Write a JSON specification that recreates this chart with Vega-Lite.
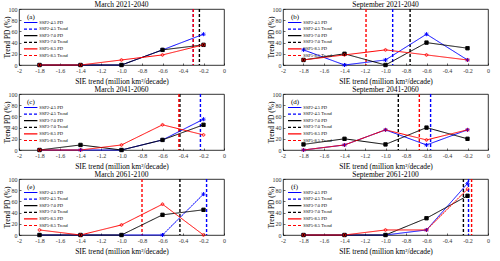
{
  "$schema": "https://vega.github.io/schema/vega-lite/v6.json",
  "padding": {"left": 2, "top": 0, "right": 2, "bottom": 0},
  "background": "white",
  "datasets": {
    "pd": [
      {"panel":"a","series":"SSP2-4.5 PD","x":-1.8,"y":0},{"panel":"a","series":"SSP2-4.5 PD","x":-1.4,"y":0},{"panel":"a","series":"SSP2-4.5 PD","x":-1.0,"y":0},{"panel":"a","series":"SSP2-4.5 PD","x":-0.6,"y":27},{"panel":"a","series":"SSP2-4.5 PD","x":-0.2,"y":55},
      {"panel":"a","series":"SSP3-7.0 PD","x":-1.8,"y":0},{"panel":"a","series":"SSP3-7.0 PD","x":-1.4,"y":0},{"panel":"a","series":"SSP3-7.0 PD","x":-1.0,"y":0},{"panel":"a","series":"SSP3-7.0 PD","x":-0.6,"y":27},{"panel":"a","series":"SSP3-7.0 PD","x":-0.2,"y":36},
      {"panel":"a","series":"SSP5-8.5 PD","x":-1.8,"y":0},{"panel":"a","series":"SSP5-8.5 PD","x":-1.4,"y":0},{"panel":"a","series":"SSP5-8.5 PD","x":-1.0,"y":9},{"panel":"a","series":"SSP5-8.5 PD","x":-0.6,"y":18},{"panel":"a","series":"SSP5-8.5 PD","x":-0.2,"y":36},
      {"panel":"b","series":"SSP2-4.5 PD","x":-1.8,"y":27},{"panel":"b","series":"SSP2-4.5 PD","x":-1.4,"y":0},{"panel":"b","series":"SSP2-4.5 PD","x":-1.0,"y":9},{"panel":"b","series":"SSP2-4.5 PD","x":-0.6,"y":55},{"panel":"b","series":"SSP2-4.5 PD","x":-0.2,"y":9},
      {"panel":"b","series":"SSP3-7.0 PD","x":-1.8,"y":9},{"panel":"b","series":"SSP3-7.0 PD","x":-1.4,"y":20},{"panel":"b","series":"SSP3-7.0 PD","x":-1.0,"y":0},{"panel":"b","series":"SSP3-7.0 PD","x":-0.6,"y":40},{"panel":"b","series":"SSP3-7.0 PD","x":-0.2,"y":30},
      {"panel":"b","series":"SSP5-8.5 PD","x":-1.8,"y":9},{"panel":"b","series":"SSP5-8.5 PD","x":-1.4,"y":18},{"panel":"b","series":"SSP5-8.5 PD","x":-1.0,"y":27},{"panel":"b","series":"SSP5-8.5 PD","x":-0.6,"y":18},{"panel":"b","series":"SSP5-8.5 PD","x":-0.2,"y":9},
      {"panel":"c","series":"SSP2-4.5 PD","x":-1.8,"y":0},{"panel":"c","series":"SSP2-4.5 PD","x":-1.4,"y":0},{"panel":"c","series":"SSP2-4.5 PD","x":-1.0,"y":0},{"panel":"c","series":"SSP2-4.5 PD","x":-0.6,"y":18},{"panel":"c","series":"SSP2-4.5 PD","x":-0.2,"y":55},
      {"panel":"c","series":"SSP3-7.0 PD","x":-1.8,"y":0},{"panel":"c","series":"SSP3-7.0 PD","x":-1.4,"y":9},{"panel":"c","series":"SSP3-7.0 PD","x":-1.0,"y":0},{"panel":"c","series":"SSP3-7.0 PD","x":-0.6,"y":18},{"panel":"c","series":"SSP3-7.0 PD","x":-0.2,"y":45},
      {"panel":"c","series":"SSP5-8.5 PD","x":-1.8,"y":0},{"panel":"c","series":"SSP5-8.5 PD","x":-1.4,"y":0},{"panel":"c","series":"SSP5-8.5 PD","x":-1.0,"y":9},{"panel":"c","series":"SSP5-8.5 PD","x":-0.6,"y":45},{"panel":"c","series":"SSP5-8.5 PD","x":-0.2,"y":27},
      {"panel":"d","series":"SSP2-4.5 PD","x":-1.8,"y":0},{"panel":"d","series":"SSP2-4.5 PD","x":-1.4,"y":9},{"panel":"d","series":"SSP2-4.5 PD","x":-1.0,"y":36},{"panel":"d","series":"SSP2-4.5 PD","x":-0.6,"y":9},{"panel":"d","series":"SSP2-4.5 PD","x":-0.2,"y":36},
      {"panel":"d","series":"SSP3-7.0 PD","x":-1.8,"y":10},{"panel":"d","series":"SSP3-7.0 PD","x":-1.4,"y":20},{"panel":"d","series":"SSP3-7.0 PD","x":-1.0,"y":10},{"panel":"d","series":"SSP3-7.0 PD","x":-0.6,"y":40},{"panel":"d","series":"SSP3-7.0 PD","x":-0.2,"y":20},
      {"panel":"d","series":"SSP5-8.5 PD","x":-1.8,"y":0},{"panel":"d","series":"SSP5-8.5 PD","x":-1.4,"y":9},{"panel":"d","series":"SSP5-8.5 PD","x":-1.0,"y":36},{"panel":"d","series":"SSP5-8.5 PD","x":-0.6,"y":18},{"panel":"d","series":"SSP5-8.5 PD","x":-0.2,"y":36},
      {"panel":"e","series":"SSP2-4.5 PD","x":-1.8,"y":0},{"panel":"e","series":"SSP2-4.5 PD","x":-1.4,"y":0},{"panel":"e","series":"SSP2-4.5 PD","x":-1.0,"y":0},{"panel":"e","series":"SSP2-4.5 PD","x":-0.6,"y":0},{"panel":"e","series":"SSP2-4.5 PD","x":-0.2,"y":73},
      {"panel":"e","series":"SSP3-7.0 PD","x":-1.8,"y":0},{"panel":"e","series":"SSP3-7.0 PD","x":-1.4,"y":0},{"panel":"e","series":"SSP3-7.0 PD","x":-1.0,"y":0},{"panel":"e","series":"SSP3-7.0 PD","x":-0.6,"y":36},{"panel":"e","series":"SSP3-7.0 PD","x":-0.2,"y":45},
      {"panel":"e","series":"SSP5-8.5 PD","x":-1.8,"y":9},{"panel":"e","series":"SSP5-8.5 PD","x":-1.4,"y":0},{"panel":"e","series":"SSP5-8.5 PD","x":-1.0,"y":18},{"panel":"e","series":"SSP5-8.5 PD","x":-0.6,"y":55},{"panel":"e","series":"SSP5-8.5 PD","x":-0.2,"y":0},
      {"panel":"f","series":"SSP2-4.5 PD","x":-1.8,"y":0},{"panel":"f","series":"SSP2-4.5 PD","x":-1.4,"y":0},{"panel":"f","series":"SSP2-4.5 PD","x":-1.0,"y":0},{"panel":"f","series":"SSP2-4.5 PD","x":-0.6,"y":9},{"panel":"f","series":"SSP2-4.5 PD","x":-0.2,"y":92},
      {"panel":"f","series":"SSP3-7.0 PD","x":-1.8,"y":0},{"panel":"f","series":"SSP3-7.0 PD","x":-1.4,"y":0},{"panel":"f","series":"SSP3-7.0 PD","x":-1.0,"y":0},{"panel":"f","series":"SSP3-7.0 PD","x":-0.6,"y":30},{"panel":"f","series":"SSP3-7.0 PD","x":-0.2,"y":70},
      {"panel":"f","series":"SSP5-8.5 PD","x":-1.8,"y":0},{"panel":"f","series":"SSP5-8.5 PD","x":-1.4,"y":0},{"panel":"f","series":"SSP5-8.5 PD","x":-1.0,"y":9},{"panel":"f","series":"SSP5-8.5 PD","x":-0.6,"y":9},{"panel":"f","series":"SSP5-8.5 PD","x":-0.2,"y":82}
    ],
    "trend": [
      {"panel":"a","series":"SSP2-4.5 Trend","trend":-0.30},{"panel":"a","series":"SSP3-7.0 Trend","trend":-0.24},{"panel":"a","series":"SSP5-8.5 Trend","trend":-0.30},
      {"panel":"b","series":"SSP2-4.5 Trend","trend":-0.93},{"panel":"b","series":"SSP3-7.0 Trend","trend":-0.76},{"panel":"b","series":"SSP5-8.5 Trend","trend":-1.19},
      {"panel":"c","series":"SSP2-4.5 Trend","trend":-0.23},{"panel":"c","series":"SSP3-7.0 Trend","trend":-0.43},{"panel":"c","series":"SSP5-8.5 Trend","trend":-0.44},
      {"panel":"d","series":"SSP2-4.5 Trend","trend":-0.56},{"panel":"d","series":"SSP3-7.0 Trend","trend":-0.875},{"panel":"d","series":"SSP5-8.5 Trend","trend":-0.67},
      {"panel":"e","series":"SSP2-4.5 Trend","trend":-0.17},{"panel":"e","series":"SSP3-7.0 Trend","trend":-0.43},{"panel":"e","series":"SSP5-8.5 Trend","trend":-0.80},
      {"panel":"f","series":"SSP2-4.5 Trend","trend":-0.19},{"panel":"f","series":"SSP3-7.0 Trend","trend":-0.24},{"panel":"f","series":"SSP5-8.5 Trend","trend":-0.16}
    ]
  },
  "columns": 2,
  "spacing": {"row": -1, "column": 40},
  "resolve": {
    "scale": {"color": "independent", "strokeDash": "independent", "shape": "independent", "fill": "independent", "size": "independent"},
    "legend": {"color": "independent", "strokeDash": "independent", "shape": "independent", "fill": "independent", "size": "independent"}
  },
  "concat": [
    {
      "title": "March 2021-2040", "width": 205, "height": 56,
      "encoding": {
        "color": {"field":"series","type":"nominal","scale":{"domain":["SSP2-4.5 PD","SSP2-4.5 Trend","SSP3-7.0 PD","SSP3-7.0 Trend","SSP5-8.5 PD","SSP5-8.5 Trend"],"range":["#0000ff","#0000ff","#000000","#000000","#ff0000","#ff0000"]},"legend":{"title":"(a)"}},
        "strokeDash": {"field":"series","type":"nominal","scale":{"domain":["SSP2-4.5 PD","SSP2-4.5 Trend","SSP3-7.0 PD","SSP3-7.0 Trend","SSP5-8.5 PD","SSP5-8.5 Trend"],"range":[[1,0],[3,2],[1,0],[3,2],[1,0],[3,2]]},"legend":{"title":"(a)"}}
      },
      "layer": [
        {"data":{"name":"trend"},"transform":[{"filter":"datum.panel=='a'"}],"mark":{"type":"rule","strokeWidth":1.4},
         "encoding":{"x":{"field":"trend","type":"quantitative","scale":{"domain":[-2,0],"nice":false},"axis":{"title":"SIE trend (million km²/decade)","values":[-2,-1.8,-1.6,-1.4,-1.2,-1,-0.8,-0.6,-0.4,-0.2,0],"labelExpr":"datum.value == -1 ? '-1.0' : '' + datum.value","tickCount":20,"labelOverlap":false,"labelFlush":false}}}},
        {"data":{"name":"pd"},"transform":[{"filter":"datum.panel=='a'"}],"mark":{"type":"line","strokeWidth":1},
         "encoding":{"x":{"field":"x","type":"quantitative","scale":{"domain":[-2,0],"nice":false},"axis":{"title":"SIE trend (million km²/decade)","values":[-2,-1.8,-1.6,-1.4,-1.2,-1,-0.8,-0.6,-0.4,-0.2,0],"labelExpr":"datum.value == -1 ? '-1.0' : '' + datum.value","tickCount":20,"labelOverlap":false,"labelFlush":false}},
          "y":{"field":"y","type":"quantitative","scale":{"domain":[0,100],"nice":false},"axis":{"title":"Trend PD (%)","values":[0,20,40,60,80,100],"tickCount":20,"labelOverlap":false,"labelFlush":false}}}},
        {"data":{"name":"pd"},"transform":[{"filter":"datum.panel=='a'"}],"mark":{"type":"point","filled":false,"strokeWidth":1,"opacity":1},
         "encoding":{"x":{"field":"x","type":"quantitative"},"y":{"field":"y","type":"quantitative"},
          "shape":{"field":"series","type":"nominal","scale":{"domain":["SSP2-4.5 PD","SSP3-7.0 PD","SSP5-8.5 PD"],"range":["M-1,0H1M0,-1V1M-0.7,-0.7L0.7,0.7M-0.7,0.7L0.7,-0.7","square","circle"]},"legend":null},
          "fill":{"field":"series","type":"nominal","scale":{"domain":["SSP2-4.5 PD","SSP3-7.0 PD","SSP5-8.5 PD"],"range":["transparent","#000000","transparent"]},"legend":null},
          "size":{"field":"series","type":"nominal","scale":{"domain":["SSP2-4.5 PD","SSP3-7.0 PD","SSP5-8.5 PD"],"range":[16,7,18]},"legend":null}}}
      ]
    },
    {
      "title": "September 2021-2040", "width": 205, "height": 56,
      "encoding": {
        "color": {"field":"series","type":"nominal","scale":{"domain":["SSP2-4.5 PD","SSP2-4.5 Trend","SSP3-7.0 PD","SSP3-7.0 Trend","SSP5-8.5 PD","SSP5-8.5 Trend"],"range":["#0000ff","#0000ff","#000000","#000000","#ff0000","#ff0000"]},"legend":{"title":"(b)"}},
        "strokeDash": {"field":"series","type":"nominal","scale":{"domain":["SSP2-4.5 PD","SSP2-4.5 Trend","SSP3-7.0 PD","SSP3-7.0 Trend","SSP5-8.5 PD","SSP5-8.5 Trend"],"range":[[1,0],[3,2],[1,0],[3,2],[1,0],[3,2]]},"legend":{"title":"(b)"}}
      },
      "layer": [
        {"data":{"name":"trend"},"transform":[{"filter":"datum.panel=='b'"}],"mark":{"type":"rule","strokeWidth":1.4},
         "encoding":{"x":{"field":"trend","type":"quantitative","scale":{"domain":[-2,0],"nice":false},"axis":{"title":"SIE trend (million km²/decade)","values":[-2,-1.8,-1.6,-1.4,-1.2,-1,-0.8,-0.6,-0.4,-0.2,0],"labelExpr":"datum.value == -1 ? '-1.0' : '' + datum.value","tickCount":20,"labelOverlap":false,"labelFlush":false}}}},
        {"data":{"name":"pd"},"transform":[{"filter":"datum.panel=='b'"}],"mark":{"type":"line","strokeWidth":1},
         "encoding":{"x":{"field":"x","type":"quantitative","scale":{"domain":[-2,0],"nice":false},"axis":{"title":"SIE trend (million km²/decade)","values":[-2,-1.8,-1.6,-1.4,-1.2,-1,-0.8,-0.6,-0.4,-0.2,0],"labelExpr":"datum.value == -1 ? '-1.0' : '' + datum.value","tickCount":20,"labelOverlap":false,"labelFlush":false}},
          "y":{"field":"y","type":"quantitative","scale":{"domain":[0,100],"nice":false},"axis":{"title":"Trend PD (%)","values":[0,20,40,60,80,100],"tickCount":20,"labelOverlap":false,"labelFlush":false}}}},
        {"data":{"name":"pd"},"transform":[{"filter":"datum.panel=='b'"}],"mark":{"type":"point","filled":false,"strokeWidth":1,"opacity":1},
         "encoding":{"x":{"field":"x","type":"quantitative"},"y":{"field":"y","type":"quantitative"},
          "shape":{"field":"series","type":"nominal","scale":{"domain":["SSP2-4.5 PD","SSP3-7.0 PD","SSP5-8.5 PD"],"range":["M-1,0H1M0,-1V1M-0.7,-0.7L0.7,0.7M-0.7,0.7L0.7,-0.7","square","circle"]},"legend":null},
          "fill":{"field":"series","type":"nominal","scale":{"domain":["SSP2-4.5 PD","SSP3-7.0 PD","SSP5-8.5 PD"],"range":["transparent","#000000","transparent"]},"legend":null},
          "size":{"field":"series","type":"nominal","scale":{"domain":["SSP2-4.5 PD","SSP3-7.0 PD","SSP5-8.5 PD"],"range":[16,7,18]},"legend":null}}}
      ]
    },
    {
      "title": "March 2041-2060", "width": 205, "height": 56,
      "encoding": {
        "color": {"field":"series","type":"nominal","scale":{"domain":["SSP2-4.5 PD","SSP2-4.5 Trend","SSP3-7.0 PD","SSP3-7.0 Trend","SSP5-8.5 PD","SSP5-8.5 Trend"],"range":["#0000ff","#0000ff","#000000","#000000","#ff0000","#ff0000"]},"legend":{"title":"(c)"}},
        "strokeDash": {"field":"series","type":"nominal","scale":{"domain":["SSP2-4.5 PD","SSP2-4.5 Trend","SSP3-7.0 PD","SSP3-7.0 Trend","SSP5-8.5 PD","SSP5-8.5 Trend"],"range":[[1,0],[3,2],[1,0],[3,2],[1,0],[3,2]]},"legend":{"title":"(c)"}}
      },
      "layer": [
        {"data":{"name":"trend"},"transform":[{"filter":"datum.panel=='c'"}],"mark":{"type":"rule","strokeWidth":1.4},
         "encoding":{"x":{"field":"trend","type":"quantitative","scale":{"domain":[-2,0],"nice":false},"axis":{"title":"SIE trend (million km²/decade)","values":[-2,-1.8,-1.6,-1.4,-1.2,-1,-0.8,-0.6,-0.4,-0.2,0],"labelExpr":"datum.value == -1 ? '-1.0' : '' + datum.value","tickCount":20,"labelOverlap":false,"labelFlush":false}}}},
        {"data":{"name":"pd"},"transform":[{"filter":"datum.panel=='c'"}],"mark":{"type":"line","strokeWidth":1},
         "encoding":{"x":{"field":"x","type":"quantitative","scale":{"domain":[-2,0],"nice":false},"axis":{"title":"SIE trend (million km²/decade)","values":[-2,-1.8,-1.6,-1.4,-1.2,-1,-0.8,-0.6,-0.4,-0.2,0],"labelExpr":"datum.value == -1 ? '-1.0' : '' + datum.value","tickCount":20,"labelOverlap":false,"labelFlush":false}},
          "y":{"field":"y","type":"quantitative","scale":{"domain":[0,100],"nice":false},"axis":{"title":"Trend PD (%)","values":[0,20,40,60,80,100],"tickCount":20,"labelOverlap":false,"labelFlush":false}}}},
        {"data":{"name":"pd"},"transform":[{"filter":"datum.panel=='c'"}],"mark":{"type":"point","filled":false,"strokeWidth":1,"opacity":1},
         "encoding":{"x":{"field":"x","type":"quantitative"},"y":{"field":"y","type":"quantitative"},
          "shape":{"field":"series","type":"nominal","scale":{"domain":["SSP2-4.5 PD","SSP3-7.0 PD","SSP5-8.5 PD"],"range":["M-1,0H1M0,-1V1M-0.7,-0.7L0.7,0.7M-0.7,0.7L0.7,-0.7","square","circle"]},"legend":null},
          "fill":{"field":"series","type":"nominal","scale":{"domain":["SSP2-4.5 PD","SSP3-7.0 PD","SSP5-8.5 PD"],"range":["transparent","#000000","transparent"]},"legend":null},
          "size":{"field":"series","type":"nominal","scale":{"domain":["SSP2-4.5 PD","SSP3-7.0 PD","SSP5-8.5 PD"],"range":[16,7,18]},"legend":null}}}
      ]
    },
    {
      "title": "September 2041-2060", "width": 205, "height": 56,
      "encoding": {
        "color": {"field":"series","type":"nominal","scale":{"domain":["SSP2-4.5 PD","SSP2-4.5 Trend","SSP3-7.0 PD","SSP3-7.0 Trend","SSP5-8.5 PD","SSP5-8.5 Trend"],"range":["#0000ff","#0000ff","#000000","#000000","#ff0000","#ff0000"]},"legend":{"title":"(d)"}},
        "strokeDash": {"field":"series","type":"nominal","scale":{"domain":["SSP2-4.5 PD","SSP2-4.5 Trend","SSP3-7.0 PD","SSP3-7.0 Trend","SSP5-8.5 PD","SSP5-8.5 Trend"],"range":[[1,0],[3,2],[1,0],[3,2],[1,0],[3,2]]},"legend":{"title":"(d)"}}
      },
      "layer": [
        {"data":{"name":"trend"},"transform":[{"filter":"datum.panel=='d'"}],"mark":{"type":"rule","strokeWidth":1.4},
         "encoding":{"x":{"field":"trend","type":"quantitative","scale":{"domain":[-2,0],"nice":false},"axis":{"title":"SIE trend (million km²/decade)","values":[-2,-1.8,-1.6,-1.4,-1.2,-1,-0.8,-0.6,-0.4,-0.2,0],"labelExpr":"datum.value == -1 ? '-1.0' : '' + datum.value","tickCount":20,"labelOverlap":false,"labelFlush":false}}}},
        {"data":{"name":"pd"},"transform":[{"filter":"datum.panel=='d'"}],"mark":{"type":"line","strokeWidth":1},
         "encoding":{"x":{"field":"x","type":"quantitative","scale":{"domain":[-2,0],"nice":false},"axis":{"title":"SIE trend (million km²/decade)","values":[-2,-1.8,-1.6,-1.4,-1.2,-1,-0.8,-0.6,-0.4,-0.2,0],"labelExpr":"datum.value == -1 ? '-1.0' : '' + datum.value","tickCount":20,"labelOverlap":false,"labelFlush":false}},
          "y":{"field":"y","type":"quantitative","scale":{"domain":[0,100],"nice":false},"axis":{"title":"Trend PD (%)","values":[0,20,40,60,80,100],"tickCount":20,"labelOverlap":false,"labelFlush":false}}}},
        {"data":{"name":"pd"},"transform":[{"filter":"datum.panel=='d'"}],"mark":{"type":"point","filled":false,"strokeWidth":1,"opacity":1},
         "encoding":{"x":{"field":"x","type":"quantitative"},"y":{"field":"y","type":"quantitative"},
          "shape":{"field":"series","type":"nominal","scale":{"domain":["SSP2-4.5 PD","SSP3-7.0 PD","SSP5-8.5 PD"],"range":["M-1,0H1M0,-1V1M-0.7,-0.7L0.7,0.7M-0.7,0.7L0.7,-0.7","square","circle"]},"legend":null},
          "fill":{"field":"series","type":"nominal","scale":{"domain":["SSP2-4.5 PD","SSP3-7.0 PD","SSP5-8.5 PD"],"range":["transparent","#000000","transparent"]},"legend":null},
          "size":{"field":"series","type":"nominal","scale":{"domain":["SSP2-4.5 PD","SSP3-7.0 PD","SSP5-8.5 PD"],"range":[16,7,18]},"legend":null}}}
      ]
    },
    {
      "title": "March 2061-2100", "width": 205, "height": 56,
      "encoding": {
        "color": {"field":"series","type":"nominal","scale":{"domain":["SSP2-4.5 PD","SSP2-4.5 Trend","SSP3-7.0 PD","SSP3-7.0 Trend","SSP5-8.5 PD","SSP5-8.5 Trend"],"range":["#0000ff","#0000ff","#000000","#000000","#ff0000","#ff0000"]},"legend":{"title":"(e)"}},
        "strokeDash": {"field":"series","type":"nominal","scale":{"domain":["SSP2-4.5 PD","SSP2-4.5 Trend","SSP3-7.0 PD","SSP3-7.0 Trend","SSP5-8.5 PD","SSP5-8.5 Trend"],"range":[[1,0],[3,2],[1,0],[3,2],[1,0],[3,2]]},"legend":{"title":"(e)"}}
      },
      "layer": [
        {"data":{"name":"trend"},"transform":[{"filter":"datum.panel=='e'"}],"mark":{"type":"rule","strokeWidth":1.4},
         "encoding":{"x":{"field":"trend","type":"quantitative","scale":{"domain":[-2,0],"nice":false},"axis":{"title":"SIE trend (million km²/decade)","values":[-2,-1.8,-1.6,-1.4,-1.2,-1,-0.8,-0.6,-0.4,-0.2,0],"labelExpr":"datum.value == -1 ? '-1.0' : '' + datum.value","tickCount":20,"labelOverlap":false,"labelFlush":false}}}},
        {"data":{"name":"pd"},"transform":[{"filter":"datum.panel=='e'"}],"mark":{"type":"line","strokeWidth":1},
         "encoding":{"x":{"field":"x","type":"quantitative","scale":{"domain":[-2,0],"nice":false},"axis":{"title":"SIE trend (million km²/decade)","values":[-2,-1.8,-1.6,-1.4,-1.2,-1,-0.8,-0.6,-0.4,-0.2,0],"labelExpr":"datum.value == -1 ? '-1.0' : '' + datum.value","tickCount":20,"labelOverlap":false,"labelFlush":false}},
          "y":{"field":"y","type":"quantitative","scale":{"domain":[0,100],"nice":false},"axis":{"title":"Trend PD (%)","values":[0,20,40,60,80,100],"tickCount":20,"labelOverlap":false,"labelFlush":false}}}},
        {"data":{"name":"pd"},"transform":[{"filter":"datum.panel=='e'"}],"mark":{"type":"point","filled":false,"strokeWidth":1,"opacity":1},
         "encoding":{"x":{"field":"x","type":"quantitative"},"y":{"field":"y","type":"quantitative"},
          "shape":{"field":"series","type":"nominal","scale":{"domain":["SSP2-4.5 PD","SSP3-7.0 PD","SSP5-8.5 PD"],"range":["M-1,0H1M0,-1V1M-0.7,-0.7L0.7,0.7M-0.7,0.7L0.7,-0.7","square","circle"]},"legend":null},
          "fill":{"field":"series","type":"nominal","scale":{"domain":["SSP2-4.5 PD","SSP3-7.0 PD","SSP5-8.5 PD"],"range":["transparent","#000000","transparent"]},"legend":null},
          "size":{"field":"series","type":"nominal","scale":{"domain":["SSP2-4.5 PD","SSP3-7.0 PD","SSP5-8.5 PD"],"range":[16,7,18]},"legend":null}}}
      ]
    },
    {
      "title": "September 2061-2100", "width": 205, "height": 56,
      "encoding": {
        "color": {"field":"series","type":"nominal","scale":{"domain":["SSP2-4.5 PD","SSP2-4.5 Trend","SSP3-7.0 PD","SSP3-7.0 Trend","SSP5-8.5 PD","SSP5-8.5 Trend"],"range":["#0000ff","#0000ff","#000000","#000000","#ff0000","#ff0000"]},"legend":{"title":"(f)"}},
        "strokeDash": {"field":"series","type":"nominal","scale":{"domain":["SSP2-4.5 PD","SSP2-4.5 Trend","SSP3-7.0 PD","SSP3-7.0 Trend","SSP5-8.5 PD","SSP5-8.5 Trend"],"range":[[1,0],[3,2],[1,0],[3,2],[1,0],[3,2]]},"legend":{"title":"(f)"}}
      },
      "layer": [
        {"data":{"name":"trend"},"transform":[{"filter":"datum.panel=='f'"}],"mark":{"type":"rule","strokeWidth":1.4},
         "encoding":{"x":{"field":"trend","type":"quantitative","scale":{"domain":[-2,0],"nice":false},"axis":{"title":"SIE trend (million km²/decade)","values":[-2,-1.8,-1.6,-1.4,-1.2,-1,-0.8,-0.6,-0.4,-0.2,0],"labelExpr":"datum.value == -1 ? '-1.0' : '' + datum.value","tickCount":20,"labelOverlap":false,"labelFlush":false}}}},
        {"data":{"name":"pd"},"transform":[{"filter":"datum.panel=='f'"}],"mark":{"type":"line","strokeWidth":1},
         "encoding":{"x":{"field":"x","type":"quantitative","scale":{"domain":[-2,0],"nice":false},"axis":{"title":"SIE trend (million km²/decade)","values":[-2,-1.8,-1.6,-1.4,-1.2,-1,-0.8,-0.6,-0.4,-0.2,0],"labelExpr":"datum.value == -1 ? '-1.0' : '' + datum.value","tickCount":20,"labelOverlap":false,"labelFlush":false}},
          "y":{"field":"y","type":"quantitative","scale":{"domain":[0,100],"nice":false},"axis":{"title":"Trend PD (%)","values":[0,20,40,60,80,100],"tickCount":20,"labelOverlap":false,"labelFlush":false}}}},
        {"data":{"name":"pd"},"transform":[{"filter":"datum.panel=='f'"}],"mark":{"type":"point","filled":false,"strokeWidth":1,"opacity":1},
         "encoding":{"x":{"field":"x","type":"quantitative"},"y":{"field":"y","type":"quantitative"},
          "shape":{"field":"series","type":"nominal","scale":{"domain":["SSP2-4.5 PD","SSP3-7.0 PD","SSP5-8.5 PD"],"range":["M-1,0H1M0,-1V1M-0.7,-0.7L0.7,0.7M-0.7,0.7L0.7,-0.7","square","circle"]},"legend":null},
          "fill":{"field":"series","type":"nominal","scale":{"domain":["SSP2-4.5 PD","SSP3-7.0 PD","SSP5-8.5 PD"],"range":["transparent","#000000","transparent"]},"legend":null},
          "size":{"field":"series","type":"nominal","scale":{"domain":["SSP2-4.5 PD","SSP3-7.0 PD","SSP5-8.5 PD"],"range":[16,7,18]},"legend":null}}}
      ]
    }
  ],
  "config": {
    "font": "Liberation Serif",
    "view": {"stroke": "#000000", "strokeWidth": 0.8},
    "title": {"font": "Liberation Serif", "fontSize": 7.5, "fontWeight": "normal", "color": "#000000", "offset": -2, "frame": "group"},
    "axis": {
      "grid": false, "domain": false,
      "labelFont": "Liberation Serif", "labelFontSize": 6, "labelColor": "#333333",
      "titleFont": "Liberation Serif", "titleFontSize": 7.5, "titleFontWeight": "normal", "titleColor": "#000000",
      "tickSize": -2, "tickColor": "#000000", "tickWidth": 0.6, "labelPadding": 4
    },
    "axisX": {"titlePadding": 4.5},
    "axisY": {"titlePadding": -3},
    "legend": {
      "orient": "none", "legendX": 8, "legendY": 4,
      "symbolType": "M-3.67,0H5.27", "symbolSize": 9, "symbolStrokeWidth": 1.2,
      "labelFontSize": 4.5, "labelFont": "Liberation Serif", "labelOffset": 7.2,
      "titleFontSize": 7, "titleFont": "Liberation Serif", "titleFontWeight": "normal", "titlePadding": 0,
      "rowPadding": 0.6, "padding": 0
    }
  }
}
